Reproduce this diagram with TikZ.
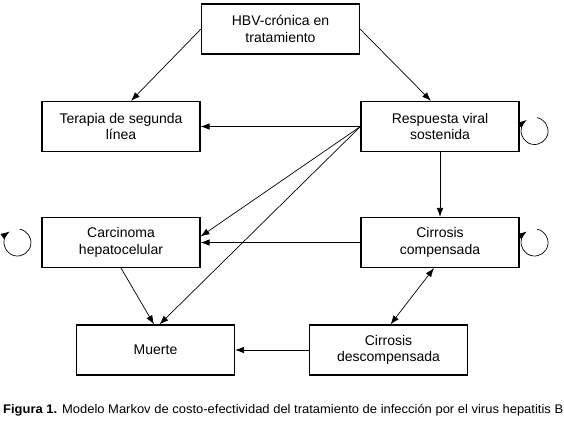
\documentclass[tikz,border=0pt]{standalone}
\usepackage{fontspec}
\setmainfont{Liberation Sans}
\usepackage{graphicx}
\usetikzlibrary{arrows.meta}

\begin{document}
\begin{tikzpicture}[x=1pt,y=1pt,>={Latex[length=9pt,width=6.5pt]},
  estado/.style={draw,line width=1.1pt,minimum width=158pt,minimum height=50pt,
    inner sep=0pt,align=center,font=\fontsize{14}{16.5}\selectfont},
  flecha/.style={line width=0.7pt}]
  \useasboundingbox (0,0) rectangle (564,-421);
  \node[estado] (hbv) at (280.5,-29) {HBV-crónica en\\tratamiento};
  \node[estado] (terapia) at (121,-126.5) {Terapia de segunda\\línea};
  \node[estado] (respuesta) at (440,-126.5) {Respuesta viral\\sostenida};
  \node[estado] (carcinoma) at (121,-242.5) {Carcinoma\\hepatocelular};
  \node[estado] (cirrosisc) at (440,-242.5) {Cirrosis\\compensada};
  \node[estado] (muerte) at (155.5,-350) {Muerte};
  \node[estado] (cirrosisd) at (388.5,-350) {Cirrosis\\descompensada};
  \draw[flecha,->] (hbv.west) -- ([xshift=10pt]terapia.north);
  \draw[flecha,->] (hbv.east) -- ([xshift=-9pt]respuesta.north);
  \draw[flecha,->] (respuesta.west) -- (terapia.east);
  \draw[flecha,->] (respuesta.west) -- ([yshift=6pt]carcinoma.east);
  \draw[flecha,->] (respuesta.west) -- ([xshift=4pt]muerte.north);
  \draw[flecha,->] (respuesta.south) -- (cirrosisc.north);
  \draw[flecha,->] (cirrosisc.west) -- (carcinoma.east);
  \draw[flecha,<->] ([xshift=-6pt]cirrosisc.south) -- ([xshift=2pt]cirrosisd.north);
  \draw[flecha,->] (carcinoma.south) -- ([xshift=-1.5pt]muerte.north);
  \draw[flecha,->] (cirrosisd.west) -- (muerte.east);
  \coordinate (bucleca) at ([xshift=-24pt]carcinoma.west);
  \coordinate (buclere) at ([shift={(15pt,-4.5pt)}]respuesta.east);
  \coordinate (bucleci) at ([xshift=15pt]cirrosisc.east);
  \foreach \c in {bucleca,buclere,bucleci}
    \draw[flecha,->] ([shift={(80:13.5)}]\c) arc[start angle=80,end angle=-235,radius=13.5];
  \node[anchor=west,inner sep=0pt] (pie) at (3,-410)
    {\resizebox{560pt}{\height}{\fontsize{12.5}{14}\selectfont\textbf{Figura 1.} Modelo Markov de costo-efectividad del tratamiento de infección por el virus hepatitis B}};
\end{tikzpicture}
\end{document}
